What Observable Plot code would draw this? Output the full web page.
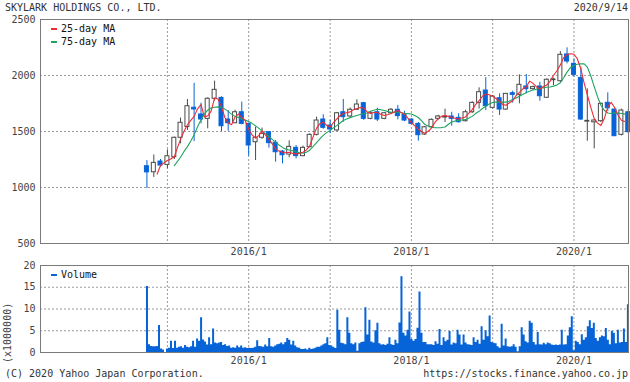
<!DOCTYPE html>
<html><head><meta charset="utf-8">
<script src="https://cdn.jsdelivr.net/npm/d3@7"></script>
<script src="https://cdn.jsdelivr.net/npm/@observablehq/plot@0.6"></script>
<style>
body{margin:0;background:#fff;}
#wrap{position:relative;width:630px;height:382px;font-family:"DejaVu Sans Mono",monospace;font-size:10px;color:#444;overflow:hidden;}
.abs{position:absolute;white-space:nowrap;line-height:10px;}
.dash{position:absolute;width:6px;height:2px;}
#wrap svg{position:absolute;left:0;}
</style></head><body><div id="wrap"></div>
<script>
// ---- data ----
const months = ["2014-10","2014-11","2014-12",
"2015-01","2015-02","2015-03","2015-04","2015-05","2015-06","2015-07","2015-08","2015-09","2015-10","2015-11","2015-12",
"2016-01","2016-02","2016-03","2016-04","2016-05","2016-06","2016-07","2016-08","2016-09","2016-10","2016-11","2016-12",
"2017-01","2017-02","2017-03","2017-04","2017-05","2017-06","2017-07","2017-08","2017-09","2017-10","2017-11","2017-12",
"2018-01","2018-02","2018-03","2018-04","2018-05","2018-06","2018-07","2018-08","2018-09","2018-10","2018-11","2018-12",
"2019-01","2019-02","2019-03","2019-04","2019-05","2019-06","2019-07","2019-08","2019-09","2019-10","2019-11","2019-12",
"2020-01","2020-02","2020-03","2020-04","2020-05","2020-06","2020-07","2020-08","2020-09"];
const open  = [1190,1136,1232, 1202,1270,1444,1540,1712,1652,1613,1792,1800,1607,1574,1672,
 1568,1404,1444,1494,1400,1321,1294,1354,1280,1360,1470,1607,
 1553,1509,1672,1634,1694,1753,1613,1672,1613,1663,1694,1649,
 1607,1568,1473,1538,1613,1625,1634,1622,1592,1672,1756,1866,
 1711,1797,1696,1842,1827,1902,1878,1902,1801,1958,1949,2188,
 2104,1979,1588,1582,1592,1756,1696,1470,1672];
const high  = [1240,1290,1250, 1336,1450,1620,1786,1930,1753,1800,1950,1810,1687,1690,1762,
 1575,1540,1530,1500,1420,1330,1417,1375,1370,1480,1628,1650,
 1598,1670,1786,1710,1783,1760,1680,1708,1670,1705,1732,1681,
 1612,1580,1545,1612,1645,1700,1672,1658,1690,1765,1890,1980,
 1820,1836,1840,1860,2006,2009,1905,1940,1970,1976,2214,2247,
 2149,2074,1880,1610,1755,1845,1700,1700,1696];
const low   = [990,1090,1180, 1167,1250,1390,1510,1410,1568,1524,1770,1500,1502,1570,1560,
 1280,1241,1430,1351,1226,1211,1265,1256,1275,1355,1460,1520,
 1480,1500,1583,1625,1690,1600,1605,1589,1605,1650,1604,1588,
 1560,1414,1465,1530,1600,1580,1547,1575,1585,1660,1700,1687,
 1700,1643,1690,1753,1747,1836,1870,1770,1795,1911,1940,2104,
 1985,1600,1413,1345,1580,1680,1455,1460,1480];
const close = [1135,1220,1196, 1279,1444,1578,1726,1697,1607,1792,1872,1547,1574,1672,1568,
 1375,1444,1479,1396,1315,1288,1363,1280,1354,1470,1598,1533,
 1518,1663,1628,1694,1741,1613,1667,1607,1663,1694,1637,1598,
 1568,1467,1538,1604,1634,1632,1613,1583,1672,1756,1851,1726,
 1812,1696,1836,1827,1917,1878,1896,1815,1962,1965,2185,2125,
 2006,1607,1595,1598,1747,1708,1458,1687,1494];

// moving averages, sampled on the 1st and 16th of each month from 2014-11 to 2020-08
const maMonths = months.slice(1, 71);
const ma25 = [null,1120, 1196,1220,
 1241,1255, 1275,1360, 1430,1500, 1560,1600, 1635,1700, 1740,1630, 1640,1680, 1800,1790, 1720,1625, 1575,1560, 1630,1655, 1625,1600,
 1520,1470, 1440,1465, 1505,1470, 1430,1390, 1345,1325, 1315,1310, 1315,1305, 1300,1305, 1315,1335, 1370,1450, 1530,1570, 1585,1555,
 1540,1580, 1615,1645, 1660,1668, 1675,1695, 1705,1715, 1710,1675, 1660,1670, 1670,1655, 1643,1650, 1660,1675, 1687,1670, 1655,1620,
 1580,1550, 1520,1500, 1485,1500, 1530,1580, 1615,1635, 1643,1635, 1625,1618, 1613,1620, 1630,1665, 1695,1740, 1775,1815, 1835,1828,
 1815,1795, 1770,1740, 1735,1755, 1775,1820, 1850,1880, 1900,1950, 1930,1900, 1880,1900, 1915,1950, 2000,2040, 2095,2160, 2185,2194,
 2190,2150, 2060,1930, 1830,1720, 1615,1575, 1553,1613, 1720,1760, 1717,1650, 1600,1590];
const ma75 = [null,null, null,null,
 null,null, 1196,1235, 1270,1320, 1365,1415, 1470,1540, 1605,1655, 1690,1710, 1717,1720, 1715,1700, 1680,1655, 1635,1625, 1612,1603,
 1590,1573, 1550,1528, 1505,1480, 1455,1430, 1405,1380, 1358,1342, 1335,1328, 1318,1310, 1306,1315, 1333,1365, 1400,1435, 1465,1490,
 1510,1532, 1555,1578, 1598,1612, 1624,1634, 1643,1652, 1658,1665, 1680,1690, 1698,1695, 1687,1680, 1672,1672, 1672,1668, 1663,1660,
 1656,1642, 1625,1595, 1565,1550, 1538,1534, 1533,1535, 1540,1565, 1585,1594, 1598,1602, 1606,1620, 1635,1660, 1680,1705, 1725,1745,
 1760,1762, 1762,1762, 1762,1770, 1785,1800, 1815,1830, 1848,1860, 1870,1878, 1884,1890, 1895,1898, 1905,1915, 1935,1980, 2030,2070,
 2090,2100, 2105,2104, 2075,2000, 1900,1810, 1735,1690, 1665,1660, 1668,1665, 1660,1655];

// volume (x1,000,000 shares), one value per 9-day bin starting 2014-09-29
const volStart = "2014-09-29";
const volume = [
 15.2,1.8,1.4,1.3,1.3,1.4,6.2,0.8,0.6,0,
 0.8,1.0,2.6,0.9,2.6,1.0,1.2,1.3,1.0,1.6,
 1.2,1.1,1.3,2.6,1.2,3.1,2.6,8.0,2.9,2.4,
 1.7,3.4,1.8,5.4,2.2,2.0,2.2,2.3,1.6,1.8,
 1.4,1.5,1.0,1.1,1.0,1.5,1.1,1.5,1.0,1.1,
 0.9,1.0,0.9,1.0,1.2,2.7,1.4,1.3,1.2,1.7,
 1.3,3.2,1.3,1.2,1.5,1.8,1.9,2.2,1.8,2.3,
 3.2,2.8,1.7,2.6,1.5,1.1,1.0,0.7,0.7,0.8,
 0.6,1.0,0.7,0.8,1.0,1.2,1.2,1.5,1.8,2.0,
 3.4,1.6,1.5,1.2,0.9,9.7,5.1,2.1,2.0,1.8,
 8.0,4.4,2.0,1.8,2.2,0.3,2.0,2.3,2.4,10.3,
 4.0,7.4,2.4,2.2,5.0,6.7,2.0,1.7,1.8,1.6,
 1.9,3.4,1.8,1.6,2.8,2.0,6.8,17.4,4.4,3.8,
 5.1,9.3,3.0,2.6,3.0,5.6,13.9,4.4,2.3,2.3,
 1.8,1.8,1.8,1.6,2.5,1.9,5.3,1.6,3.4,2.5,
 2.8,4.8,1.7,2.2,2.0,5.1,4.0,1.7,4.0,2.2,
 1.8,1.7,1.6,3.4,2.3,2.8,1.9,5.9,2.8,5.0,
 3.6,8.4,2.3,2.1,2.0,1.3,1.0,6.5,1.5,3.1,
 1.3,1.2,1.3,1.8,1.2,0.2,1.3,5.7,4.0,2.5,
 2.2,7.2,6.7,2.3,1.7,4.6,1.8,1.7,2.1,1.8,
 2.2,2.0,1.7,1.6,1.7,1.6,1.7,5.1,1.7,1.8,
 3.8,5.7,8.2,0.4,2.6,2.3,1.8,4.1,2.8,3.4,
 5.9,7.3,5.5,6.7,3.2,2.6,3.4,3.8,3.6,5.5,
 2.8,1.8,4.9,4.4,2.0,5.1,2.2,2.3,5.4,2.3,
 11.0];

const xDomain = ["2013-06-10","2020-09-02"];
const gridYears = ["2015-01-01","2016-01-01","2017-01-01","2018-01-01","2019-01-01","2020-01-01"];
const xLabels = ["2016-01-01","2018-01-01","2020-01-01"];
const priceTicks = [500,1000,1500,2000,2500];
const priceGrid = [1000,1500,2000];
const volTicks = [0,5,10,15,20];
const volGrid = [5,10,15];

const title = "SKYLARK HOLDINGS CO., LTD.";
const dateText = "2020/9/14";
const credit = "(C) 2020 Yahoo Japan Corporation.";
const url = "https://stocks.finance.yahoo.co.jp";

// ---- build ----
const UP = "#4a4a4a", DOWN = "#0764d8", RED = "#ee2c36", GREEN = "#1fa463", GRID = "#9a9a9a", FRAME = "#7a7a7a";
const pd = s => new Date(s + (s.length === 7 ? "-01" : "") + "T00:00:00Z");
const candles = months.map((m, i) => ({date: pd(m), open: open[i], high: high[i], low: low[i], close: close[i]}));
const ups = candles.filter(d => d.close >= d.open);
const downs = candles.filter(d => d.close < d.open);
const ma = [];
maMonths.forEach((m, i) => {
  ma.push({date: pd(m + "-01"), ma25: ma25[2*i], ma75: ma75[2*i]});
  ma.push({date: pd(m + "-16"), ma25: ma25[2*i+1], ma75: ma75[2*i+1]});
});
const s0 = pd(volStart);
const vol = volume.map((v, i) => ({x: d3.utcDay.offset(s0, 9*i), v}));
vol.push({x: d3.utcDay.offset(s0, 9*volume.length), v: volume[volume.length-1]});
const xd = xDomain.map(pd);
const fmt = d => `${d.getUTCFullYear()}/${d.getUTCMonth()+1}`;
const nfmt = d => String(d);
const style = {fontFamily: "'DejaVu Sans Mono', monospace", fontSize: "10px", color: "#444", background: "transparent", overflow: "visible"};
const bodyX1 = d => d3.utcDay.offset(d.date, -9);
const bodyX2 = d => d3.utcDay.offset(d.date, 9);

const p1 = Plot.plot({
  width: 630, height: 246, marginTop: 7, marginBottom: 15, marginLeft: 40, marginRight: 2,
  style,
  x: {type: "utc", domain: xd},
  y: {domain: [500, 2500]},
  marks: [
    Plot.ruleY(priceGrid, {stroke: GRID, strokeDasharray: "2,2"}),
    Plot.ruleX(gridYears.map(pd), {stroke: GRID, strokeDasharray: "2,2"}),
    Plot.ruleX(ups, {x: "date", y1: "low", y2: "high", stroke: UP, strokeWidth: 1}),
    Plot.ruleX(downs, {x: "date", y1: "low", y2: "high", stroke: DOWN, strokeWidth: 1}),
    Plot.rect(ups, {x1: bodyX1, x2: bodyX2, y1: "open", y2: "close", fill: "#fff", stroke: UP, strokeWidth: 1}),
    Plot.rect(downs, {x1: bodyX1, x2: bodyX2, y1: "open", y2: "close", fill: DOWN, stroke: DOWN, strokeWidth: 1}),
    Plot.line(ma, {x: "date", y: "ma75", stroke: GREEN, strokeWidth: 1.1}),
    Plot.line(ma, {x: "date", y: "ma25", stroke: RED, strokeWidth: 1.1}),
    Plot.axisY(priceTicks, {tickSize: 0, tickPadding: 5, tickFormat: nfmt, label: null}),
    Plot.axisX(xLabels.map(pd), {tickSize: 0, tickPadding: 4, tickFormat: fmt, label: null}),
    Plot.frame({stroke: FRAME})
  ]
});
p1.style.top = "12px";

const p2 = Plot.plot({
  width: 630, height: 110, marginTop: 7, marginBottom: 16, marginLeft: 40, marginRight: 2,
  style,
  x: {type: "utc", domain: xd},
  y: {domain: [0, 20]},
  marks: [
    Plot.ruleY(volGrid, {stroke: GRID, strokeDasharray: "2,2"}),
    Plot.ruleX(gridYears.map(pd), {stroke: GRID, strokeDasharray: "2,2"}),
    Plot.areaY(vol, {x: "x", y: "v", curve: "step-after", fill: DOWN, clip: true}),
    Plot.axisY(volTicks, {tickSize: 0, tickPadding: 5, tickFormat: nfmt, label: null}),
    Plot.axisX(xLabels.map(pd), {tickSize: 0, tickPadding: 4, tickFormat: fmt, label: null}),
    Plot.frame({stroke: FRAME})
  ]
});
p2.style.top = "258px";

const wrap = document.getElementById("wrap");
wrap.appendChild(p1);
wrap.appendChild(p2);
function txt(t, css) { const e = document.createElement("div"); e.className = "abs"; e.textContent = t; Object.assign(e.style, css); wrap.appendChild(e); return e; }
function dash(color, css) { const e = document.createElement("div"); e.className = "dash"; e.style.background = color; Object.assign(e.style, css); wrap.appendChild(e); }
txt(title, {left: "5px", top: "3px", color: "#333"});
txt(dateText, {right: "2px", top: "3px", color: "#333"});
txt(credit, {left: "5px", top: "369px", color: "#333"});
txt(url, {right: "2px", top: "369px", color: "#333"});
dash(RED, {left: "51px", top: "28px"});
txt("25-day MA", {left: "61px", top: "24px", color: "#111"});
dash(GREEN, {left: "51px", top: "41px"});
txt("75-day MA", {left: "61px", top: "37px", color: "#111"});
dash(DOWN, {left: "51px", top: "274px"});
txt("Volume", {left: "61px", top: "270px", color: "#111"});
txt("(x1000000)", {left: "-22px", top: "328px", width: "60px", transform: "rotate(-90deg)", transformOrigin: "50% 50%", color: "#444"});
</script></body></html>
